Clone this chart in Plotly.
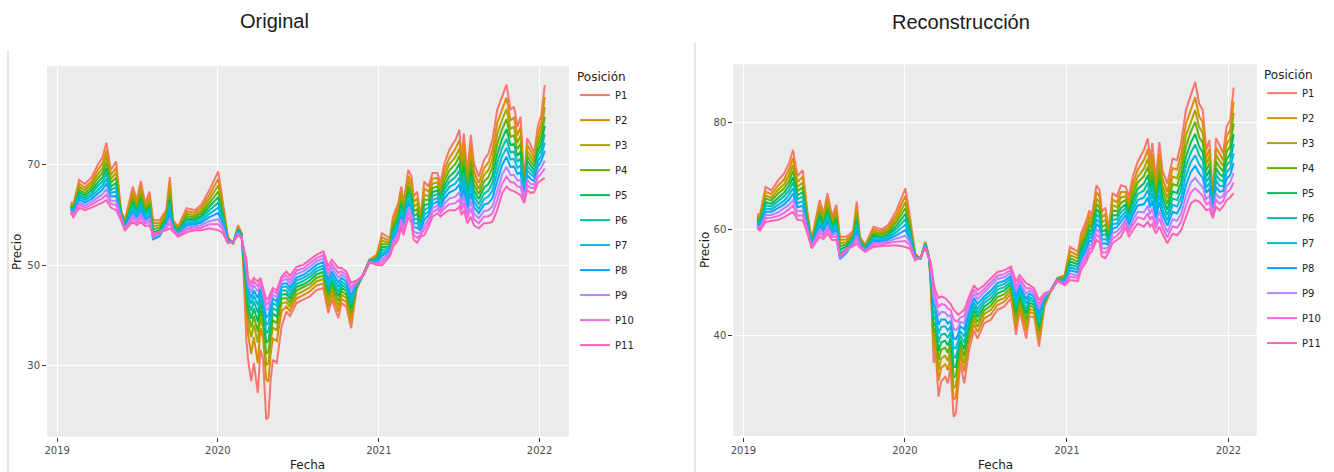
import plotly.graph_objects as go

# Observation dates shared by both panels
fechas = [
    "2019-02-01", "2019-02-07", "2019-02-20", "2019-03-05", "2019-03-20", "2019-04-03", "2019-04-14", "2019-04-23", "2019-05-03", "2019-05-15",
    "2019-05-26", "2019-06-04", "2019-06-22", "2019-07-01", "2019-07-10", "2019-07-20", "2019-07-30", "2019-08-07", "2019-08-22", "2019-09-06",
    "2019-09-14", "2019-09-21", "2019-10-03", "2019-10-22", "2019-11-10", "2019-11-24", "2019-12-13", "2020-01-02", "2020-01-12", "2020-01-24",
    "2020-02-05", "2020-02-16", "2020-02-24", "2020-02-28", "2020-03-06", "2020-03-10", "2020-03-17", "2020-03-23", "2020-04-01", "2020-04-07",
    "2020-04-13", "2020-04-20", "2020-04-25", "2020-04-30", "2020-05-05", "2020-05-14", "2020-05-25", "2020-06-05", "2020-06-13", "2020-06-28",
    "2020-07-13", "2020-07-28", "2020-08-12", "2020-08-28", "2020-09-08", "2020-09-16", "2020-10-01", "2020-10-08", "2020-10-19", "2020-10-30",
    "2020-11-11", "2020-11-27", "2020-12-11", "2020-12-27", "2021-01-08", "2021-01-26", "2021-02-02", "2021-02-14", "2021-02-21", "2021-02-26",
    "2021-03-09", "2021-03-16", "2021-03-21", "2021-03-29", "2021-04-06", "2021-04-14", "2021-04-24", "2021-05-03", "2021-05-14", "2021-05-21",
    "2021-05-30", "2021-06-10", "2021-06-24", "2021-07-03", "2021-07-08", "2021-07-13", "2021-07-21", "2021-07-29", "2021-08-05", "2021-08-16",
    "2021-08-28", "2021-09-07", "2021-09-16", "2021-09-27", "2021-10-08", "2021-10-18", "2021-10-27", "2021-11-04", "2021-11-12", "2021-11-19",
    "2021-11-27", "2021-12-04", "2021-12-12", "2021-12-20", "2021-12-28", "2022-01-05", "2022-01-13",
]

# ---- Original prices by position ----
orig_p1 = [62.6, 62.2, 67.0, 66.2, 67.5, 70.0, 71.5, 74.4, 69.0, 70.7,
           61.0, 59.0, 65.7, 63.0, 66.8, 62.4, 64.7, 59.0, 59.0, 61.0,
           67.6, 59.0, 57.7, 61.4, 61.0, 62.0, 65.0, 68.7, 63.0, 55.7,
           54.3, 58.0, 56.5, 49.8, 35.2, 31.2, 26.9, 30.6, 24.6, 33.2,
           31.2, 19.3, 19.8, 27.0, 31.2, 30.6, 37.9, 40.8, 39.9, 42.5,
           43.2, 43.8, 45.1, 45.5, 40.5, 43.2, 39.5, 42.5, 41.8, 37.5,
           45.1, 48.3, 51.2, 52.1, 56.4, 55.4, 59.7, 62.4, 65.7, 62.4,
           69.0, 67.7, 63.7, 64.7, 59.7, 66.7, 65.7, 68.4, 68.4, 66.4,
           70.3, 73.0, 75.0, 77.0, 71.0, 76.3, 68.4, 76.0, 70.3, 67.7,
           71.0, 72.3, 75.0, 81.0, 83.6, 86.0, 81.0, 81.6, 77.6, 79.6,
           66.4, 75.3, 74.0, 72.3, 77.6, 80.0, 85.9]
orig_p2 = [62.3, 61.9, 66.3, 65.5, 66.7, 69.0, 70.3, 72.9, 68.0, 69.4,
           60.7, 58.7, 64.8, 62.4, 65.8, 61.8, 63.8, 58.4, 58.5, 60.5,
           66.3, 58.7, 57.4, 60.8, 60.5, 61.4, 64.0, 67.2, 62.2, 55.5,
           54.4, 57.7, 56.4, 51.0, 40.0, 36.1, 32.4, 35.7, 30.5, 37.5,
           35.5, 27.3, 26.9, 32.3, 35.5, 34.9, 40.9, 41.8, 40.9, 43.4,
           44.1, 44.8, 46.0, 46.4, 41.7, 44.2, 40.8, 43.4, 42.7, 38.7,
           45.4, 48.3, 51.1, 51.8, 55.6, 54.9, 58.9, 61.5, 64.7, 61.6,
           67.8, 66.5, 62.6, 63.4, 59.2, 65.3, 64.7, 67.3, 67.4, 65.5,
           69.0, 71.4, 73.2, 75.0, 69.6, 74.3, 67.1, 73.9, 68.7, 66.4,
           69.4, 70.5, 72.9, 78.4, 81.1, 83.4, 78.9, 79.4, 75.9, 77.6,
           65.9, 74.0, 72.8, 71.3, 76.1, 78.3, 83.5]
orig_p3 = [62.1, 61.6, 65.7, 65.0, 66.1, 68.1, 69.3, 71.7, 67.2, 68.4,
           60.5, 58.5, 64.0, 61.8, 64.9, 61.3, 63.1, 57.8, 58.0, 60.0,
           65.2, 58.5, 57.2, 60.3, 60.0, 60.8, 63.2, 65.9, 61.4, 55.4,
           54.4, 57.5, 56.3, 51.6, 42.4, 38.5, 35.7, 38.2, 34.6, 39.6,
           37.6, 30.1, 30.5, 34.9, 37.6, 37.1, 42.4, 42.7, 41.8, 44.2,
           44.9, 45.6, 46.8, 47.3, 42.7, 45.1, 41.9, 44.2, 43.5, 39.7,
           45.6, 48.2, 51.1, 51.6, 54.9, 54.5, 58.3, 60.6, 63.8, 60.9,
           66.8, 65.5, 61.6, 62.3, 58.7, 64.1, 63.8, 66.3, 66.5, 64.8,
           67.9, 70.1, 71.6, 73.3, 68.4, 72.6, 66.0, 72.1, 67.4, 65.2,
           68.0, 69.0, 71.1, 76.2, 79.0, 81.1, 77.2, 77.6, 74.4, 75.9,
           65.4, 72.8, 71.7, 70.5, 74.9, 76.9, 81.5]
orig_p4 = [61.9, 61.3, 65.1, 64.4, 65.5, 67.3, 68.4, 70.5, 66.5, 67.4,
           60.3, 58.3, 63.3, 61.3, 64.1, 60.8, 62.4, 57.2, 57.5, 59.6,
           64.1, 58.3, 57.0, 59.8, 59.6, 60.3, 62.4, 64.7, 60.8, 55.3,
           54.5, 57.3, 56.2, 52.0, 44.0, 40.2, 37.7, 39.9, 36.8, 41.1,
           39.1, 32.5, 32.8, 36.6, 39.1, 38.5, 43.4, 43.5, 42.6, 45.0,
           45.6, 46.3, 47.5, 48.0, 43.7, 45.9, 42.9, 44.9, 44.2, 40.6,
           45.8, 48.2, 51.0, 51.4, 54.2, 54.2, 57.7, 59.9, 63.0, 60.2,
           65.8, 64.6, 60.8, 61.2, 58.3, 63.1, 63.0, 65.4, 65.7, 64.1,
           66.9, 68.9, 70.2, 71.8, 67.3, 71.1, 65.0, 70.5, 66.1, 64.2,
           66.7, 67.6, 69.5, 74.2, 77.1, 79.1, 75.6, 75.9, 73.1, 74.3,
           65.0, 71.8, 70.7, 69.7, 73.8, 75.6, 79.6]
orig_p5 = [61.7, 61.1, 64.6, 63.9, 64.9, 66.5, 67.5, 69.4, 65.7, 66.4,
           60.1, 58.1, 62.6, 60.8, 63.2, 60.4, 61.8, 56.6, 57.0, 59.2,
           63.1, 58.0, 56.8, 59.3, 59.2, 59.8, 61.7, 63.6, 60.1, 55.1,
           54.5, 57.1, 56.1, 52.4, 45.4, 41.6, 39.4, 41.4, 38.8, 42.4,
           40.4, 34.6, 35.0, 38.2, 40.4, 39.8, 44.2, 44.3, 43.4, 45.7,
           46.2, 47.0, 48.2, 48.7, 44.6, 46.7, 43.9, 45.6, 44.9, 41.5,
           45.9, 48.2, 51.0, 51.2, 53.6, 53.8, 57.1, 59.2, 62.2, 59.6,
           64.9, 63.7, 59.9, 60.2, 57.9, 62.0, 62.2, 64.6, 64.9, 63.5,
           65.9, 67.7, 68.8, 70.3, 66.2, 69.6, 64.0, 68.8, 64.9, 63.2,
           65.5, 66.2, 67.8, 72.2, 75.2, 77.1, 74.0, 74.2, 71.8, 72.7,
           64.6, 70.8, 69.8, 68.9, 72.7, 74.3, 77.8]
orig_p6 = [61.5, 60.8, 64.1, 63.4, 64.3, 65.8, 66.7, 68.4, 65.0, 65.6,
           59.9, 57.9, 62.0, 60.4, 62.5, 60.0, 61.2, 56.0, 56.5, 58.9,
           62.2, 57.8, 56.6, 58.9, 58.9, 59.4, 61.0, 62.5, 59.6, 55.0,
           54.6, 56.9, 56.0, 52.7, 46.7, 42.9, 41.0, 42.8, 40.6, 43.5,
           41.5, 36.5, 36.9, 39.6, 41.5, 41.0, 45.0, 45.0, 44.1, 46.3,
           46.9, 47.7, 48.8, 49.4, 45.4, 47.4, 44.8, 46.2, 45.5, 42.3,
           46.1, 48.1, 50.9, 51.0, 53.0, 53.5, 56.5, 58.5, 61.5, 59.0,
           64.1, 62.8, 59.1, 59.3, 57.6, 61.0, 61.5, 63.8, 64.2, 62.9,
           65.1, 66.6, 67.6, 68.9, 65.2, 68.2, 63.1, 67.4, 63.8, 62.2,
           64.3, 64.9, 66.4, 70.4, 73.4, 75.2, 72.5, 72.7, 70.6, 71.3,
           64.3, 69.8, 68.9, 68.2, 71.7, 73.1, 76.1]
orig_p7 = [61.3, 60.6, 63.6, 63.0, 63.8, 65.0, 65.9, 67.3, 64.4, 64.7,
           59.8, 57.8, 61.4, 59.9, 61.8, 59.6, 60.6, 55.4, 56.0, 58.5,
           61.3, 57.6, 56.5, 58.4, 58.5, 58.9, 60.3, 61.5, 59.0, 54.9,
           54.6, 56.8, 55.9, 53.0, 47.8, 44.1, 42.4, 44.0, 42.1, 44.5,
           42.5, 38.2, 38.5, 40.8, 42.5, 42.0, 45.7, 45.8, 44.9, 47.0,
           47.5, 48.3, 49.4, 50.0, 46.3, 48.1, 45.7, 46.8, 46.1, 43.1,
           46.3, 48.1, 50.8, 50.9, 52.4, 53.2, 56.0, 57.9, 60.7, 58.4,
           63.2, 62.0, 58.4, 58.4, 57.2, 60.1, 60.7, 63.0, 63.4, 62.3,
           64.2, 65.6, 66.3, 67.5, 64.2, 66.8, 62.2, 65.9, 62.7, 61.3,
           63.2, 63.7, 64.9, 68.6, 71.7, 73.4, 71.1, 71.2, 69.4, 69.9,
           63.9, 68.9, 68.1, 67.5, 70.7, 71.9, 74.4]
orig_p8 = [61.1, 60.4, 63.1, 62.5, 63.2, 64.3, 65.1, 66.3, 63.7, 63.8,
           59.6, 57.6, 60.7, 59.5, 61.1, 59.1, 59.9, 55.2, 55.8, 58.2,
           60.4, 57.4, 56.3, 58.0, 58.2, 58.5, 59.6, 60.4, 58.4, 54.8,
           54.7, 56.6, 55.8, 53.2, 48.7, 45.1, 43.6, 45.0, 43.5, 45.4,
           43.4, 39.6, 40.0, 41.9, 43.4, 42.8, 46.3, 46.5, 45.6, 47.6,
           48.1, 49.0, 50.1, 50.7, 47.1, 48.8, 46.6, 47.5, 46.8, 43.9,
           46.5, 48.1, 50.8, 50.7, 51.9, 52.8, 55.4, 57.2, 60.0, 57.9,
           62.4, 61.2, 57.6, 57.5, 56.9, 59.1, 60.0, 62.2, 62.7, 61.6,
           63.3, 64.5, 65.1, 66.1, 63.2, 65.4, 61.3, 64.4, 61.6, 60.4,
           62.1, 62.4, 63.4, 66.8, 70.0, 71.6, 69.6, 69.7, 68.2, 68.5,
           63.6, 68.0, 67.2, 66.8, 69.6, 70.8, 72.8]
orig_p9 = [60.9, 60.1, 62.5, 62.0, 62.6, 63.5, 64.2, 65.2, 62.9, 62.8,
           59.4, 57.4, 60.0, 59.0, 60.2, 58.7, 59.3, 55.6, 56.2, 57.8,
           59.3, 57.2, 56.1, 57.5, 57.8, 58.0, 58.8, 59.2, 57.7, 54.6,
           54.7, 56.4, 55.7, 53.4, 49.7, 46.0, 44.7, 46.0, 44.8, 46.2,
           44.2, 41.1, 41.4, 42.9, 44.2, 43.7, 46.9, 47.3, 46.4, 48.3,
           48.8, 49.7, 50.8, 51.4, 48.0, 49.6, 47.6, 48.2, 47.5, 44.8,
           46.6, 48.1, 50.7, 50.5, 51.2, 52.5, 54.8, 56.5, 59.2, 57.2,
           61.5, 60.3, 56.7, 56.4, 56.5, 58.0, 59.2, 61.4, 61.9, 61.0,
           62.3, 63.3, 63.7, 64.6, 62.1, 63.9, 60.3, 62.8, 60.3, 59.4,
           60.8, 61.0, 61.8, 64.8, 68.1, 69.6, 68.0, 68.0, 66.9, 67.0,
           63.2, 67.0, 66.2, 66.1, 68.5, 69.5, 70.9]
orig_p10 = [60.7, 59.9, 62.1, 61.5, 62.1, 62.8, 63.4, 64.1, 62.3, 62.0,
            59.2, 57.2, 59.4, 58.5, 59.5, 58.3, 58.7, 55.9, 56.5, 57.4,
            58.4, 57.0, 55.9, 57.1, 57.4, 57.5, 58.2, 58.2, 57.2, 54.5,
            54.8, 56.2, 55.6, 53.6, 50.5, 46.9, 45.7, 46.8, 45.9, 46.9,
            44.9, 42.2, 42.6, 43.8, 44.9, 44.4, 47.4, 48.0, 47.1, 49.0,
            49.4, 50.4, 51.4, 52.1, 48.9, 50.3, 48.5, 48.8, 48.1, 45.6,
            46.8, 48.0, 50.7, 50.3, 50.6, 52.2, 54.3, 55.8, 58.5, 56.6,
            60.6, 59.4, 56.0, 55.5, 56.1, 57.1, 58.5, 60.6, 61.2, 60.4,
            61.4, 62.2, 62.4, 63.2, 61.1, 62.5, 59.4, 61.3, 59.2, 58.4,
            59.7, 59.8, 60.3, 63.0, 66.3, 67.7, 66.6, 66.5, 65.7, 65.6,
            62.8, 66.0, 65.4, 65.4, 67.5, 68.3, 69.3]
orig_p11 = [60.5, 59.6, 61.5, 61.0, 61.5, 62.0, 62.5, 63.0, 61.5, 61.0,
            59.0, 57.0, 58.7, 58.0, 58.7, 57.8, 58.0, 56.1, 56.7, 57.0,
            57.4, 56.8, 55.7, 56.6, 57.0, 57.0, 57.4, 57.0, 56.5, 54.4,
            54.8, 56.0, 55.5, 53.8, 51.1, 47.5, 46.5, 47.5, 46.8, 47.5,
            45.5, 43.2, 43.5, 44.5, 45.5, 45.0, 47.8, 48.8, 47.9, 49.7,
            50.1, 51.1, 52.1, 52.8, 49.8, 51.1, 49.5, 49.5, 48.8, 46.5,
            47.0, 48.0, 50.6, 50.1, 50.0, 51.8, 53.7, 55.1, 57.7, 56.0,
            59.7, 58.5, 55.1, 54.5, 55.7, 56.0, 57.7, 59.7, 60.4, 59.7,
            60.4, 61.0, 61.0, 61.7, 60.0, 61.0, 58.4, 59.7, 58.0, 57.4,
            58.4, 58.4, 58.7, 61.0, 64.4, 65.7, 65.0, 64.8, 64.4, 64.0,
            62.4, 65.0, 64.4, 64.6, 66.4, 67.0, 67.4]

# ---- Reconstructed prices by position ----
recon_p1 = [63.0, 62.6, 68.0, 67.3, 69.2, 70.5, 72.4, 74.9, 70.0, 71.1,
            63.0, 58.0, 65.5, 63.0, 66.8, 62.5, 64.6, 58.6, 58.6, 59.7,
            65.2, 58.6, 57.1, 60.5, 60.0, 60.8, 63.6, 67.7, 62.5, 55.5,
            54.4, 57.7, 55.0, 49.9, 34.9, 37.3, 28.6, 31.5, 32.3, 31.1,
            34.2, 24.8, 25.5, 30.0, 34.9, 31.1, 37.4, 41.1, 39.5, 42.4,
            43.0, 44.9, 45.5, 47.1, 40.2, 44.9, 39.5, 43.6, 43.6, 38.0,
            45.5, 48.8, 50.9, 51.4, 56.7, 55.8, 59.2, 61.7, 63.6, 62.4,
            68.3, 67.4, 63.3, 64.1, 59.9, 66.8, 66.2, 68.3, 68.0, 66.2,
            69.9, 72.7, 74.9, 77.1, 73.0, 76.2, 69.2, 76.4, 71.1, 68.6,
            73.3, 73.0, 76.1, 82.4, 85.2, 87.7, 83.6, 82.4, 74.9, 76.8,
            65.8, 77.1, 75.8, 74.3, 79.3, 80.5, 86.6]
recon_p2 = [62.6, 62.2, 67.1, 66.6, 68.2, 69.4, 71.2, 73.4, 68.9, 69.9,
            62.5, 57.8, 64.6, 62.4, 65.8, 61.9, 63.7, 58.0, 58.1, 59.3,
            64.2, 58.3, 56.9, 60.0, 59.6, 60.3, 62.7, 66.3, 61.7, 55.3,
            54.5, 57.5, 55.0, 50.5, 37.3, 39.1, 31.6, 34.0, 34.7, 33.6,
            36.1, 28.0, 28.5, 32.2, 36.4, 33.3, 39.0, 42.2, 40.7, 43.3,
            44.0, 45.8, 46.4, 47.9, 41.5, 45.7, 40.9, 44.4, 44.3, 39.1,
            45.8, 48.8, 50.8, 51.2, 55.9, 55.1, 58.3, 60.7, 62.6, 61.5,
            67.0, 66.1, 62.2, 62.9, 59.4, 65.6, 65.1, 67.0, 67.0, 65.2,
            68.6, 71.2, 73.0, 75.1, 71.4, 74.2, 67.9, 74.3, 69.6, 67.1,
            71.5, 71.2, 74.0, 79.8, 82.6, 84.8, 81.2, 80.1, 73.4, 75.1,
            65.3, 75.4, 74.2, 73.0, 77.5, 78.6, 84.0]
recon_p3 = [62.3, 61.9, 66.4, 65.9, 67.4, 68.5, 70.1, 72.1, 68.0, 68.8,
            62.1, 57.6, 63.8, 61.9, 65.0, 61.4, 63.0, 57.4, 57.6, 59.0,
            63.3, 58.1, 56.8, 59.6, 59.3, 59.9, 62.0, 65.1, 61.0, 55.2,
            54.5, 57.4, 54.9, 51.0, 39.0, 40.3, 33.6, 35.8, 36.3, 35.3,
            37.4, 30.2, 30.6, 33.8, 37.4, 34.8, 40.1, 43.1, 41.7, 44.1,
            44.9, 46.6, 47.1, 48.5, 42.6, 46.5, 42.0, 45.0, 44.9, 40.1,
            46.1, 48.7, 50.8, 50.9, 55.2, 54.5, 57.6, 59.8, 61.7, 60.8,
            65.8, 65.0, 61.3, 61.8, 58.9, 64.5, 64.2, 66.0, 66.2, 64.4,
            67.5, 69.9, 71.4, 73.3, 70.0, 72.6, 66.8, 72.6, 68.2, 65.9,
            69.9, 69.6, 72.2, 77.6, 80.3, 82.4, 79.2, 78.1, 72.2, 73.7,
            64.9, 74.0, 72.9, 71.9, 76.0, 77.0, 81.9]
recon_p4 = [62.1, 61.7, 65.8, 65.4, 66.7, 67.7, 69.1, 71.0, 67.2, 67.9,
            61.7, 57.5, 63.2, 61.4, 64.2, 61.0, 62.4, 56.8, 57.2, 58.7,
            62.6, 57.9, 56.7, 59.2, 59.0, 59.5, 61.4, 64.0, 60.4, 55.1,
            54.5, 57.3, 54.9, 51.4, 40.5, 41.4, 35.5, 37.4, 37.8, 36.8,
            38.6, 32.2, 32.5, 35.2, 38.4, 36.2, 41.1, 44.0, 42.6, 44.8,
            45.7, 47.3, 47.8, 49.1, 43.6, 47.1, 43.0, 45.6, 45.4, 41.0,
            46.4, 48.7, 50.7, 50.8, 54.6, 53.9, 56.9, 59.0, 60.9, 60.2,
            64.8, 64.0, 60.4, 60.9, 58.5, 63.6, 63.4, 65.0, 65.5, 63.6,
            66.5, 68.8, 70.0, 71.8, 68.8, 71.0, 65.8, 71.0, 67.1, 64.8,
            68.5, 68.2, 70.6, 75.6, 78.3, 80.2, 77.3, 76.3, 71.1, 72.4,
            64.5, 72.8, 71.7, 70.9, 74.6, 75.6, 79.9]
recon_p5 = [61.8, 61.4, 65.1, 64.8, 65.9, 66.9, 68.2, 69.8, 66.4, 67.0,
            61.3, 57.3, 62.5, 60.9, 63.5, 60.5, 61.7, 56.2, 56.8, 58.4,
            61.8, 57.7, 56.5, 58.8, 58.6, 59.1, 60.7, 62.9, 59.8, 54.9,
            54.6, 57.2, 54.8, 51.7, 41.8, 42.5, 37.1, 38.8, 39.1, 38.2,
            39.6, 34.1, 34.2, 36.4, 39.2, 37.5, 42.0, 44.8, 43.5, 45.5,
            46.4, 48.0, 48.5, 49.7, 44.6, 47.8, 44.1, 46.2, 45.9, 41.8,
            46.6, 48.7, 50.6, 50.6, 54.0, 53.4, 56.2, 58.3, 60.0, 59.5,
            63.8, 63.0, 59.6, 59.9, 58.1, 62.7, 62.6, 64.0, 64.7, 62.9,
            65.5, 67.6, 68.6, 70.2, 67.5, 69.5, 64.8, 69.4, 65.9, 63.7,
            67.1, 66.8, 68.9, 73.6, 76.3, 77.9, 75.5, 74.5, 69.9, 71.1,
            64.2, 71.5, 70.4, 69.9, 73.2, 74.1, 77.9]
recon_p6 = [61.5, 61.1, 64.5, 64.3, 65.3, 66.2, 67.3, 68.8, 65.7, 66.1,
            61.0, 57.2, 61.8, 60.5, 62.8, 60.1, 61.1, 55.6, 56.3, 58.2,
            61.1, 57.5, 56.4, 58.5, 58.4, 58.8, 60.1, 61.9, 59.3, 54.8,
            54.6, 57.1, 54.8, 52.1, 43.2, 43.5, 38.8, 40.3, 40.4, 39.6,
            40.7, 35.9, 36.0, 37.7, 40.1, 38.7, 42.9, 45.6, 44.3, 46.2,
            47.1, 48.7, 49.1, 50.2, 45.5, 48.3, 45.0, 46.8, 46.4, 42.6,
            46.8, 48.6, 50.6, 50.4, 53.4, 52.9, 55.6, 57.6, 59.3, 58.9,
            62.8, 62.2, 58.9, 59.1, 57.7, 61.8, 61.9, 63.2, 64.0, 62.2,
            64.5, 66.6, 67.3, 68.8, 66.4, 68.1, 63.9, 68.0, 64.8, 62.7,
            65.8, 65.5, 67.5, 71.8, 74.4, 75.9, 73.9, 72.9, 68.9, 69.9,
            63.8, 70.3, 69.3, 69.0, 72.0, 72.8, 76.1]
recon_p7 = [61.3, 60.9, 63.9, 63.8, 64.6, 65.4, 66.5, 67.7, 64.9, 65.3,
            60.6, 57.0, 61.2, 60.0, 62.1, 59.7, 60.5, 54.8, 55.8, 57.9,
            60.4, 57.4, 56.3, 58.1, 58.1, 58.4, 59.5, 60.9, 58.7, 54.7,
            54.6, 57.0, 54.8, 52.5, 44.5, 44.5, 40.4, 41.7, 41.8, 41.0,
            41.8, 37.7, 37.7, 39.0, 40.9, 39.9, 43.8, 46.3, 45.1, 46.8,
            47.8, 49.3, 49.7, 50.8, 46.4, 48.9, 46.0, 47.3, 46.9, 43.4,
            47.1, 48.6, 50.5, 50.2, 52.9, 52.4, 55.0, 56.9, 58.6, 58.3,
            61.9, 61.3, 58.1, 58.2, 57.4, 61.0, 61.1, 62.3, 63.4, 61.5,
            63.6, 65.5, 66.0, 67.4, 65.3, 66.8, 63.0, 66.5, 63.7, 61.7,
            64.6, 64.3, 66.0, 70.0, 72.6, 73.9, 72.2, 71.3, 67.9, 68.7,
            63.5, 69.2, 68.2, 68.1, 70.7, 71.5, 74.3]
recon_p8 = [61.0, 60.6, 63.3, 63.3, 64.0, 64.7, 65.6, 66.7, 64.2, 64.4,
            60.3, 56.9, 60.6, 59.6, 61.4, 59.3, 59.9, 54.4, 55.6, 57.6,
            59.7, 57.2, 56.2, 57.8, 57.8, 58.1, 58.9, 59.9, 58.2, 54.6,
            54.7, 56.9, 54.7, 52.8, 45.9, 45.5, 42.1, 43.1, 43.1, 42.3,
            42.8, 39.5, 39.4, 40.2, 41.8, 41.2, 44.7, 47.1, 46.0, 47.4,
            48.5, 49.9, 50.3, 51.3, 47.3, 49.5, 46.9, 47.9, 47.4, 44.2,
            47.3, 48.6, 50.5, 50.1, 52.3, 51.9, 54.4, 56.2, 57.9, 57.7,
            61.0, 60.4, 57.3, 57.4, 57.0, 60.1, 60.4, 61.4, 62.7, 60.8,
            62.7, 64.5, 64.7, 66.0, 64.1, 65.4, 62.1, 65.1, 62.7, 60.7,
            63.3, 63.0, 64.5, 68.2, 70.8, 71.9, 70.5, 69.7, 66.9, 67.6,
            63.2, 68.0, 67.1, 67.2, 69.5, 70.2, 72.5]
recon_p9 = [60.7, 60.3, 62.7, 62.7, 63.2, 63.9, 64.6, 65.5, 63.4, 63.5,
            59.9, 56.7, 59.9, 59.1, 60.6, 58.9, 59.3, 54.6, 55.9, 57.3,
            58.9, 57.0, 56.0, 57.4, 57.5, 57.7, 58.3, 58.8, 57.6, 54.4,
            54.7, 56.7, 54.7, 53.2, 47.2, 46.5, 43.8, 44.5, 44.4, 43.7,
            43.9, 41.3, 41.1, 41.5, 42.6, 42.4, 45.6, 47.9, 46.9, 48.2,
            49.3, 50.7, 51.0, 51.9, 48.3, 50.2, 47.9, 48.5, 47.9, 45.1,
            47.5, 48.6, 50.4, 49.9, 51.7, 51.3, 53.7, 55.4, 57.0, 57.1,
            60.0, 59.4, 56.5, 56.4, 56.6, 59.2, 59.6, 60.4, 61.9, 60.0,
            61.7, 63.3, 63.2, 64.4, 62.9, 63.9, 61.1, 63.5, 61.5, 59.5,
            61.9, 61.6, 62.9, 66.2, 68.8, 69.7, 68.7, 67.9, 65.7, 66.3,
            62.8, 66.7, 65.9, 66.2, 68.1, 68.8, 70.6]
recon_p10 = [60.5, 60.1, 62.1, 62.2, 62.5, 63.1, 63.8, 64.5, 62.6, 62.6,
             59.6, 56.6, 59.3, 58.7, 60.0, 58.5, 58.7, 54.8, 56.2, 57.1,
             58.2, 56.8, 55.9, 57.1, 57.2, 57.4, 57.7, 57.8, 57.0, 54.3,
             54.8, 56.6, 54.6, 53.5, 48.6, 47.5, 45.4, 46.0, 45.8, 45.1,
             44.9, 43.1, 42.8, 42.7, 43.5, 43.7, 46.5, 48.7, 47.7, 48.8,
             50.0, 51.3, 51.6, 52.4, 49.2, 50.8, 48.9, 49.0, 48.4, 45.8,
             47.8, 48.5, 50.4, 49.7, 51.1, 50.9, 53.1, 54.7, 56.3, 56.5,
             59.0, 58.5, 55.7, 55.6, 56.2, 58.3, 58.8, 59.6, 61.3, 59.4,
             60.8, 62.3, 61.9, 63.0, 61.8, 62.5, 60.2, 62.1, 60.4, 58.5,
             60.6, 60.3, 61.4, 64.4, 66.9, 67.7, 67.0, 66.3, 64.7, 65.1,
             62.5, 65.6, 64.8, 65.3, 66.9, 67.5, 68.8]
recon_p11 = [60.2, 59.8, 61.4, 61.6, 61.8, 62.3, 62.8, 63.3, 61.8, 61.7,
             59.2, 56.4, 58.6, 58.2, 59.2, 58.0, 58.0, 54.9, 56.4, 56.8,
             57.4, 56.6, 55.8, 56.7, 56.9, 57.0, 57.0, 56.7, 56.4, 54.2,
             54.8, 56.5, 54.6, 53.9, 49.9, 48.5, 47.1, 47.4, 47.1, 46.5,
             46.0, 44.9, 44.5, 44.0, 44.3, 44.9, 47.4, 49.5, 48.6, 49.5,
             50.8, 52.0, 52.3, 53.0, 50.2, 51.4, 49.9, 49.6, 48.9, 46.7,
             48.0, 48.5, 50.3, 49.5, 50.5, 50.3, 52.4, 53.9, 55.5, 55.8,
             58.0, 57.5, 54.9, 54.6, 55.8, 57.4, 58.0, 58.6, 60.5, 58.6,
             59.8, 61.1, 60.5, 61.4, 60.5, 61.0, 59.2, 60.5, 59.2, 57.4,
             59.2, 58.9, 59.8, 62.4, 64.9, 65.5, 65.2, 64.5, 63.6, 63.8,
             62.1, 64.3, 63.6, 64.3, 65.5, 66.0, 66.8]

posiciones = ["P1", "P2", "P3", "P4", "P5", "P6", "P7", "P8", "P9", "P10", "P11"]
colores = ["#F8766D", "#DB8E00", "#AEA200", "#64B200", "#00BD5C", "#00C1A7",
           "#00BADE", "#00A6FF", "#B385FF", "#EF67EB", "#FF63B6"]

series_orig = [orig_p1, orig_p2, orig_p3, orig_p4, orig_p5, orig_p6,
               orig_p7, orig_p8, orig_p9, orig_p10, orig_p11]
series_recon = [recon_p1, recon_p2, recon_p3, recon_p4, recon_p5, recon_p6,
                recon_p7, recon_p8, recon_p9, recon_p10, recon_p11]

for s in series_orig + series_recon:
    assert len(s) == len(fechas), len(s)

W, H = 1334, 472
FONT = "DejaVu Sans"

fig = go.Figure()

for nombre, color, valores in zip(posiciones, colores, series_orig):
    fig.add_trace(go.Scatter(
        x=fechas, y=valores, mode="lines", name=nombre,
        line=dict(color=color, width=2),
        xaxis="x", yaxis="y", legend="legend", legendgroup="orig_" + nombre,
    ))

for nombre, color, valores in zip(posiciones, colores, series_recon):
    fig.add_trace(go.Scatter(
        x=fechas, y=valores, mode="lines", name=nombre,
        line=dict(color=color, width=2),
        xaxis="x2", yaxis="y2", legend="legend2", legendgroup="recon_" + nombre,
    ))


def eje_fecha(dominio, rango):
    return dict(
        domain=dominio, type="date", range=rango,
        tick0="2019-01-01", dtick="M12", tickformat="%Y",
        showgrid=True, gridcolor="white", gridwidth=1.2, zeroline=False,
        ticks="outside", ticklen=4, tickcolor="#333333", tickwidth=1,
        tickfont=dict(family=FONT, size=10, color="#4D4D4D"),
        showline=False, automargin=False, fixedrange=True,
    )


def eje_precio(dominio, rango, marcas, ancla):
    return dict(
        domain=dominio, range=rango, tickvals=marcas, anchor=ancla,
        showgrid=True, gridcolor="white", gridwidth=1.2, zeroline=False,
        ticks="outside", ticklen=4, tickcolor="#333333", tickwidth=1,
        tickfont=dict(family=FONT, size=10, color="#4D4D4D"),
        showline=False, automargin=False, fixedrange=True,
    )


leyenda = dict(
    title=dict(text="Posición", font=dict(family=FONT, size=12, color="#222222")),
    font=dict(family=FONT, size=10, color="#222222"),
    bgcolor="rgba(255,255,255,0)", borderwidth=0,
    tracegroupgap=6, xanchor="left", yanchor="top",
)

fig.update_layout(
    width=W, height=H, autosize=False,
    margin=dict(l=0, r=0, t=0, b=0),
    paper_bgcolor="white", plot_bgcolor="#EBEBEB",
    xaxis=eje_fecha([47 / W, 569 / W], ["2018-12-09", "2022-03-09"]),
    yaxis=eje_precio([1 - 436.7 / H, 1 - 66 / H], [15.9, 89.7], [30, 50, 70], "x"),
    xaxis2=eje_fecha([733.3 / W, 1256.7 / W], ["2018-12-09", "2022-03-06"]),
    yaxis2=eje_precio([1 - 436 / H, 1 - 64.3 / H], [21.2, 91.0], [40, 60, 80], "x2"),
    legend=dict(leyenda, x=575 / W, y=1 - 65 / H),
    legend2=dict(leyenda, x=1262 / W, y=1 - 63 / H),
    showlegend=True,
)

# Panel titles and axis titles
textos = [
    dict(text="Original", x=274 / W, y=1 - 21 / H, size=20, family="Liberation Sans", angle=0),
    dict(text="Reconstrucción", x=961 / W, y=1 - 22 / H, size=20, family="Liberation Sans", angle=0),
    dict(text="Fecha", x=307 / W, y=1 - 465 / H, size=12, family=FONT, angle=0),
    dict(text="Fecha", x=995 / W, y=1 - 465 / H, size=12, family=FONT, angle=0),
    dict(text="Precio", x=17 / W, y=1 - 252 / H, size=12, family=FONT, angle=-90),
    dict(text="Precio", x=705 / W, y=1 - 250 / H, size=12, family=FONT, angle=-90),
]
for t in textos:
    fig.add_annotation(
        text=t["text"], x=t["x"], y=t["y"], xref="paper", yref="paper",
        xanchor="center", yanchor="middle", showarrow=False, textangle=t["angle"],
        font=dict(family=t["family"], size=t["size"], color="#1A1A1A"),
    )

# Thin frame edges to the left of each panel
for xp, ytop in [(8, 50), (695, 43)]:
    fig.add_shape(
        type="line", xref="paper", yref="paper",
        x0=xp / W, x1=xp / W, y0=0, y1=1 - ytop / H,
        line=dict(color="#DDDDDD", width=1.5),
    )

fig.write_html("out.html")
